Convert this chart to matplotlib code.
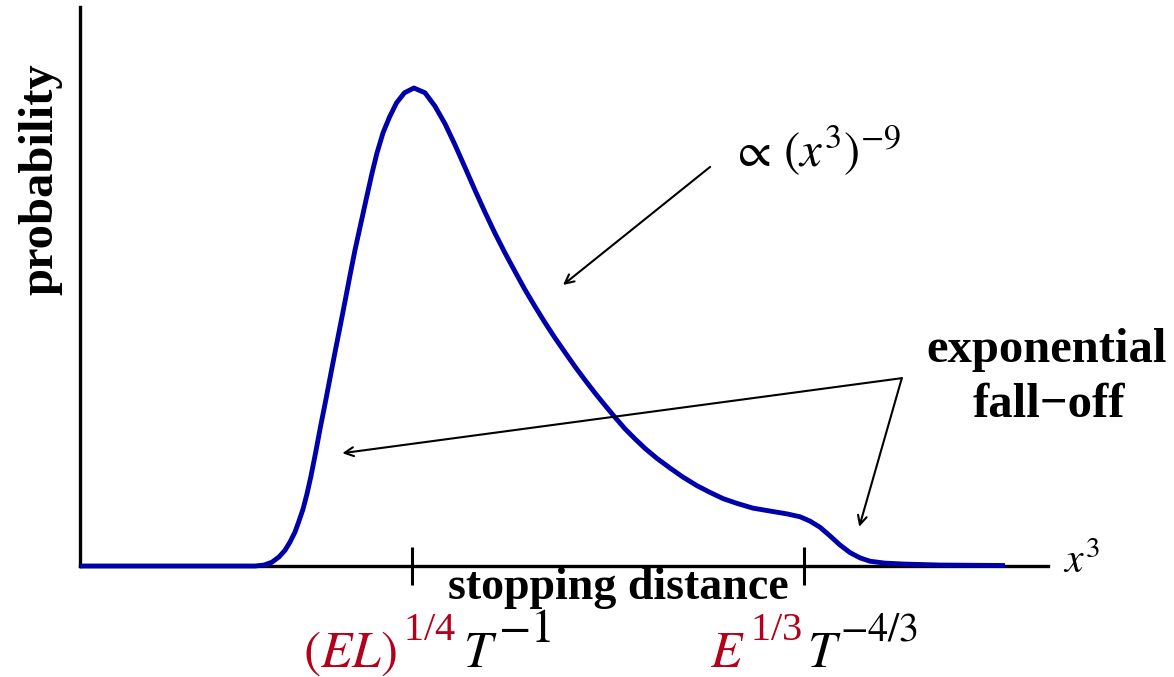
import matplotlib
matplotlib.use("Agg")
import matplotlib.pyplot as plt

plt.rcParams['font.family'] = ['Liberation Serif', 'DejaVu Serif']
plt.rcParams['mathtext.fontset'] = 'stix'

# schematic distribution of x^3 (arbitrary units, peak = 1)
x_vals = [0.000, 1.808, 1.901, 1.983, 2.056, 2.118, 2.169, 2.221, 2.262,
          2.304, 2.345, 2.386, 2.433, 2.484, 2.539, 2.593, 2.639, 2.686,
          2.740, 2.794, 2.841, 2.893, 2.955, 3.017, 3.068, 3.130, 3.197,
          3.270, 3.352, 3.450, 3.564, 3.667, 3.771, 3.874, 3.977, 4.081,
          4.184, 4.287, 4.390, 4.494, 4.597, 4.700, 4.804, 4.907, 5.010,
          5.114, 5.217, 5.320, 5.424, 5.527, 5.630, 5.733, 5.837, 5.961,
          6.095, 6.229, 6.374, 6.508, 6.643, 6.787, 6.953, 7.128, 7.304,
          7.438, 7.541, 7.645, 7.748, 7.851, 7.955, 8.058, 8.161, 8.316,
          8.523, 8.884, 9.556]
prob = [0.000, 0.000, 0.002, 0.008, 0.019, 0.033, 0.050, 0.071, 0.094,
        0.119, 0.151, 0.188, 0.236, 0.291, 0.347, 0.404, 0.452, 0.500,
        0.556, 0.613, 0.661, 0.709, 0.766, 0.822, 0.864, 0.906, 0.939,
        0.969, 0.990, 1.000, 0.990, 0.962, 0.925, 0.881, 0.834, 0.786,
        0.740, 0.696, 0.655, 0.616, 0.578, 0.543, 0.509, 0.477, 0.447,
        0.417, 0.389, 0.362, 0.336, 0.311, 0.287, 0.266, 0.246, 0.225,
        0.205, 0.186, 0.168, 0.154, 0.141, 0.131, 0.121, 0.115, 0.109,
        0.103, 0.094, 0.081, 0.063, 0.044, 0.028, 0.017, 0.010, 0.006,
        0.004, 0.002, 0.001]

# marked positions on the x^3 axis
tick_pos = [3.43, 7.48]

# annotation arrows: (start, tip)
arrow_power = ((6.51, 0.835), (4.99, 0.588))
arrow_exp_left = ((8.49, 0.393), (2.71, 0.236))
arrow_exp_right = ((8.49, 0.393), (8.05, 0.082))

blue = '#0000aa'
red = '#b3001b'

fig = plt.figure(figsize=(11.74, 6.77), dpi=100)
ax = fig.add_axes([80 / 1174, 111 / 677, 968 / 1174, 559 / 677])
ax.set_xlim(0, 10)
ax.set_ylim(0, 559 / 478)

for s in ['top', 'right']:
    ax.spines[s].set_visible(False)
for s in ['left', 'bottom']:
    ax.spines[s].set_linewidth(2.4)
ax.set_yticks([])
ax.set_xticks(tick_pos)
ax.tick_params(axis='x', direction='inout', length=27, width=2.2,
               labelbottom=False)

ax.plot(x_vals, prob, color=blue, lw=3.5, clip_on=False, zorder=3,
        solid_joinstyle='round', solid_capstyle='butt')

for start, tip in [arrow_power, arrow_exp_left, arrow_exp_right]:
    ax.annotate('', xy=tip, xytext=start,
                arrowprops=dict(arrowstyle='->', color='black', lw=1.5,
                                shrinkA=0, shrinkB=0, mutation_scale=16))

ax.text(-0.41, 0.81, 'probability', rotation=90, fontsize=35,
        fontweight='bold', ha='center', va='center')
ax.text(6.72, 0.835, r'$\propto\,(x^3)^{-9}$', fontsize=35,
        ha='left', va='baseline')
ax.text(9.99, 0.427, 'exponential', fontsize=35, fontweight='bold',
        ha='center', va='baseline')
ax.text(10.01, 0.312, 'fall\u2212off', fontsize=35, fontweight='bold',
        ha='center', va='baseline')
ax.text(5.56, -0.069, 'stopping distance', fontsize=33, fontweight='bold',
        ha='center', va='baseline')
ax.text(10.15, -0.015, r'$x^3$', fontsize=30, ha='left', va='baseline')

# scale labels under the two marks
ax.text(2.30, -0.211, r'$(EL)$', fontsize=37, color=red, ha='left', va='baseline')
ax.text(3.34, -0.155, r'$\mathregular{1/4}$', fontsize=29, color=red, ha='left', va='baseline')
ax.text(3.96, -0.211, r'$T$', fontsize=37, ha='left', va='baseline')
ax.text(4.32, -0.160, r'$-1$', fontsize=34, ha='left', va='baseline')
ax.text(6.51, -0.211, r'$E$', fontsize=37, color=red, ha='left', va='baseline')
ax.text(6.92, -0.155, r'$\mathregular{1/3}$', fontsize=29, color=red, ha='left', va='baseline')
ax.text(7.51, -0.211, r'$T$', fontsize=37, ha='left', va='baseline')
ax.text(7.85, -0.155, r'$-4/3$', fontsize=29, ha='left', va='baseline')

fig.savefig('out.png', dpi=100)
